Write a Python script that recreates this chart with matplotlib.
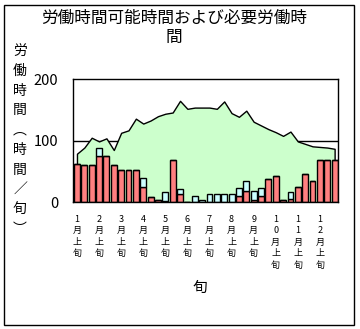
import matplotlib
matplotlib.use('Agg')
import matplotlib.pyplot as plt
from matplotlib.patches import Rectangle
import numpy as np

plt.rcParams['font.family'] = ['Noto Sans CJK JP', 'DejaVu Sans']

# 旬 (36 per year), labels shown on each 上旬
months = ['1', '2', '3', '4', '5', '6', '7', '8', '9', '10', '11', '12']
tick_labels = [m + '月上旬' for m in months]

# 労働可能時間 (green area)
available = [79, 89, 105, 99, 104, 85, 113, 117, 136, 128, 133, 140,
             144, 146, 165, 152, 154, 154, 154, 152, 164, 145, 139, 149,
             131, 125, 119, 114, 108, 115, 99, 95, 91, 90, 89, 87]
# 必要労働時間 (red part, lower)
required_a = [63, 61, 61, 76, 76, 61, 53, 52, 52, 25, 9, 4,
              2, 69, 14, 0, 0, 0, 0, 0, 0, 0, 10, 19,
              4, 10, 38, 43, 4, 5, 25, 46, 34, 69, 69, 69]
# 必要労働時間 (cyan part, stacked on top)
required_b = [0, 0, 0, 13, 0, 0, 0, 0, 0, 14, 0, 0,
              14, 0, 7, 0, 11, 3, 14, 14, 14, 14, 14, 16,
              15, 14, 0, 0, 0, 11, 0, 0, 0, 0, 0, 0]

x = np.arange(len(available))

fig = plt.figure(figsize=(3.6, 3.29), dpi=100)
fig.patches.append(Rectangle((4 / 360, 4 / 329), 350 / 360, 320 / 329,
                             transform=fig.transFigure, fill=False,
                             edgecolor='black', lw=1))

ax = fig.add_axes([73.3 / 360, (329 - 202.3) / 329, 265 / 360, 123 / 329])

ax.axhline(100, color='black', lw=1, zorder=0.5)
ax.fill_between(x, 0, available, facecolor='#CCFFCC', edgecolor='black',
                lw=1, zorder=1)
ax.bar(x, required_a, width=0.8, color='#FF8080', edgecolor='black',
       lw=1, zorder=2)
ax.bar(x, required_b, width=0.8, bottom=required_a, color='#CCFFFF',
       edgecolor='black', lw=1, zorder=2)

ax.set_xlim(-0.5, len(available) - 0.5)
ax.set_ylim(0, 200)
ax.set_yticks([0, 100, 200])
ax.set_yticklabels(['0', '100', '200'], fontsize=10.5)
ax.set_xticks(x[::3])
ax.set_xticklabels(['\n'.join(t) for t in tick_labels], fontsize=6.5,
                   linespacing=1.35, va='top')
ax.tick_params(axis='both', length=0)
ax.tick_params(axis='y', pad=11)
ax.tick_params(axis='x', pad=9)
for s in ax.spines.values():
    s.set_linewidth(1)

fig.text(174 / 360, 1 - 28 / 329, '労働時間可能時間および必要労働時\n間',
         ha='center', va='center', fontsize=12, linespacing=1.15)
fig.text(20 / 360, 1 - 140 / 329, '\n'.join('労働時間︵時間／旬︶'),
         ha='center', va='center', fontsize=10, linespacing=1.52)
fig.text(200 / 360, 1 - 288 / 329, '旬', ha='center', va='center',
         fontsize=10.5)

fig.savefig('out.png', dpi=100)
